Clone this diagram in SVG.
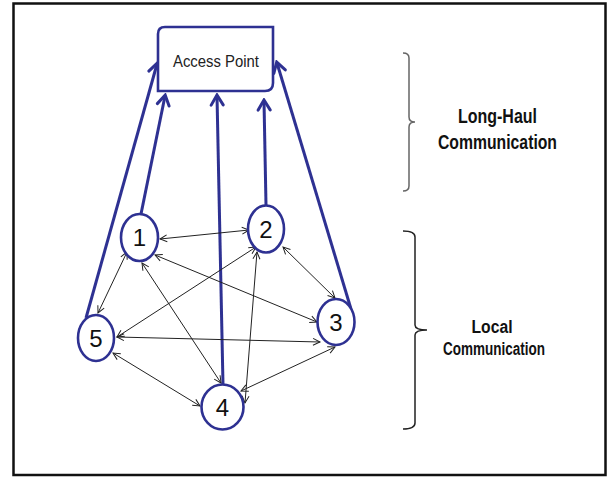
<svg xmlns="http://www.w3.org/2000/svg" width="608" height="477" viewBox="0 0 608 477">
  <style>
    .node { fill: #ffffff; stroke: #2E3192; stroke-width: 2.6; }
    .num { font-family: "Liberation Sans", Arial, sans-serif; font-size: 24px; fill: #111111; text-anchor: middle; }
    .haul { fill: none; stroke: #2E3192; stroke-width: 3; marker-end: url(#haulHead); }
    .local { fill: none; stroke: #222222; stroke-width: 1; marker-start: url(#thinHead); marker-end: url(#thinHead); }
    .label { font-family: "Liberation Sans", Arial, sans-serif; font-weight: bold; fill: #111111; text-anchor: middle; }
  </style>
  <defs>
    <marker id="haulHead" markerUnits="userSpaceOnUse" viewBox="-14 -9 16 18" markerWidth="16" markerHeight="18" refX="-1" refY="0" orient="auto">
      <path d="M-10,-6 L0,0 L-10,6" fill="none" stroke="#2E3192" stroke-width="3" stroke-linecap="round"/>
    </marker>
    <marker id="thinHead" markerUnits="userSpaceOnUse" viewBox="-10 -6 12 12" markerWidth="12" markerHeight="12" refX="0" refY="0" orient="auto-start-reverse">
      <path d="M-7,-3.5 L0,0 L-7,3.5" fill="none" stroke="#222222" stroke-width="1"/>
    </marker>
  </defs>

  <!-- outer frame -->
  <rect x="13.5" y="3.5" width="592" height="471.5" fill="#ffffff" stroke="#111111" stroke-width="2.5"/>

  <!-- connectors -->
  <g id="connectors">
    <!-- long-haul uplinks -->
    <line class="haul" x1="86" y1="318" x2="157" y2="64"/>
    <line class="haul" x1="141" y1="214" x2="165" y2="96"/>
    <line class="haul" x1="223" y1="385" x2="217" y2="96"/>
    <line class="haul" x1="266" y1="205" x2="264" y2="101"/>
    <line class="haul" x1="351" y1="309" x2="277" y2="63"/>
    <!-- local mesh -->
    <line class="local" x1="160" y1="239" x2="249" y2="230"/>
    <line class="local" x1="127" y1="252" x2="98" y2="313"/>
    <line class="local" x1="142" y1="263" x2="221" y2="383"/>
    <line class="local" x1="155" y1="255" x2="317" y2="322"/>
    <line class="local" x1="256" y1="247" x2="117" y2="337"/>
    <line class="local" x1="257" y1="252" x2="245" y2="403"/>
    <line class="local" x1="283" y1="247" x2="335" y2="298"/>
    <line class="local" x1="117" y1="337" x2="320" y2="342"/>
    <line class="local" x1="113" y1="353" x2="200" y2="406"/>
    <line class="local" x1="335" y1="347" x2="241" y2="391"/>
  </g>

  <g id="access-point">
    <path d="M165,27 L273,27 L273,83 Q273,91 265,91 L158,91 L158,34 Q158,27 165,27 Z" fill="#ffffff" stroke="#2E3192" stroke-width="2.6"/>
    <text x="216" y="67" font-family="Liberation Sans, Arial, sans-serif" font-size="16" fill="#222222" text-anchor="middle" textLength="86" lengthAdjust="spacingAndGlyphs">Access Point</text>
  </g>

  <g id="node-1">
    <ellipse class="node" cx="139.5" cy="237.5" rx="18.5" ry="23.5"/>
    <text class="num" x="139.5" y="246">1</text>
  </g>
  <g id="node-2">
    <ellipse class="node" cx="266" cy="229" rx="18" ry="23.5"/>
    <text class="num" x="266" y="237.5">2</text>
  </g>
  <g id="node-3">
    <ellipse class="node" cx="336" cy="322" rx="18.5" ry="23"/>
    <text class="num" x="336" y="330.5">3</text>
  </g>
  <g id="node-4">
    <ellipse class="node" cx="222.5" cy="407" rx="21" ry="22.5"/>
    <text class="num" x="222.5" y="415.5">4</text>
  </g>
  <g id="node-5">
    <ellipse class="node" cx="96" cy="338" rx="18" ry="23"/>
    <text class="num" x="96" y="346.5">5</text>
  </g>

  <g id="long-haul-brace">
    <path d="M403,53 Q409,53 409,58 L409,117 Q409,122 415,122 Q409,122 409,127 L409,186 Q409,191 403,191" fill="none" stroke="#666666" stroke-width="1.5"/>
    <text class="label" x="497.5" y="123" font-size="20" textLength="79" lengthAdjust="spacingAndGlyphs">Long-Haul</text>
    <text class="label" x="497.5" y="149" font-size="20" textLength="119" lengthAdjust="spacingAndGlyphs">Communication</text>
  </g>

  <g id="local-brace">
    <path d="M403,231 Q415,231 415,237 L415,325 Q415,330 427,330 Q415,330 415,335 L415,423 Q415,429 403,429" fill="none" stroke="#222222" stroke-width="1.5"/>
    <text class="label" x="492" y="333" font-size="18" textLength="41" lengthAdjust="spacingAndGlyphs">Local</text>
    <text class="label" x="494" y="355" font-size="18" textLength="102" lengthAdjust="spacingAndGlyphs">Communication</text>
  </g>
</svg>
